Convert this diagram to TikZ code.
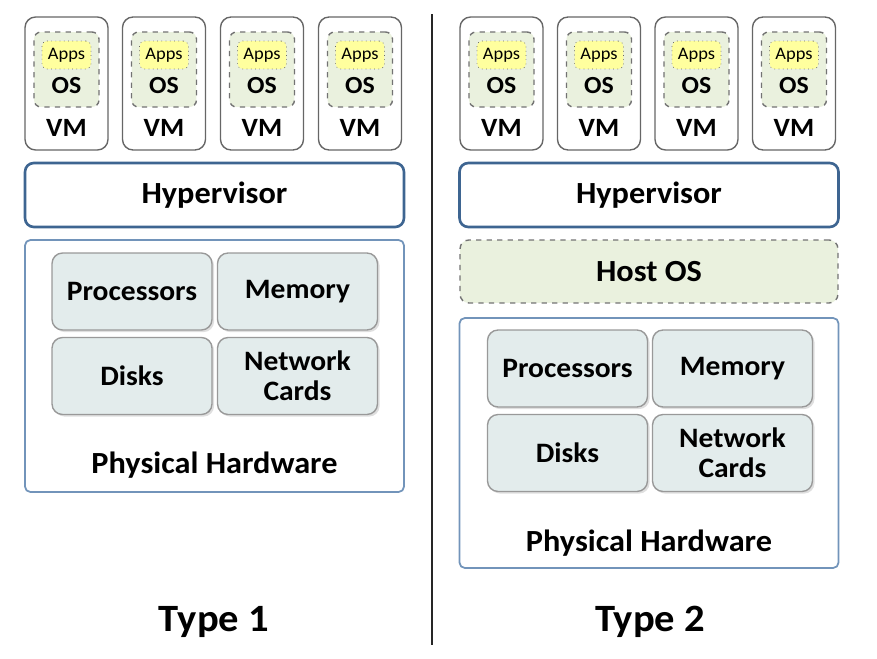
\documentclass[tikz,border=0pt]{standalone}
\usepackage{fontspec}
\setmainfont{Carlito}[FakeStretch=1.05]
\usepackage{tikz}
\usetikzlibrary{shadows}

\definecolor{osgreen}{HTML}{EAF1DE}
\definecolor{appyellow}{HTML}{FFFF9E}
\definecolor{hyperblue}{HTML}{3E6591}
\definecolor{hwblue}{HTML}{7294BA}
\definecolor{partfill}{HTML}{E3ECEC}

\begin{document}
\begin{tikzpicture}[x=0.02cm, y=-0.02cm,
    vmbox/.style={rectangle, draw=black!60, fill=white, line width=0.8pt, rounded corners=6pt, minimum width=1.66cm, minimum height=2.66cm},
    osbox/.style={rectangle, draw=black!55, dashed, line width=0.8pt, fill=osgreen, rounded corners=4pt, minimum width=1.3cm, minimum height=1.5cm},
    appsbox/.style={rectangle, draw=black!60, dotted, fill=appyellow, rounded corners=3pt, minimum width=0.98cm, minimum height=0.56cm, inner sep=0pt, font=\fontsize{10}{12}\selectfont},
    vmtext/.style={font=\bfseries\fontsize{15}{18}\selectfont, inner sep=0pt},
    bigtext/.style={font=\bfseries\fontsize{17.5}{21}\selectfont, inner sep=0pt},
    hyperbox/.style={rectangle, draw=hyperblue, line width=1.5pt, fill=white, rounded corners=5pt, minimum width=7.58cm, minimum height=1.28cm, font=\bfseries\fontsize{17.5}{21}\selectfont},
    hostbox/.style={rectangle, draw=black!55, dashed, line width=0.8pt, fill=osgreen, rounded corners=5pt, minimum width=7.56cm, minimum height=1.26cm, font=\bfseries\fontsize{17.5}{21}\selectfont},
    hwbox/.style={rectangle, draw=hwblue, line width=1pt, rounded corners=3pt, minimum width=7.58cm},
    partbox/.style={rectangle, draw=black!40, fill=partfill, line width=0.8pt, rounded corners=6pt, minimum width=3.2cm, minimum height=1.54cm, align=center, font=\bfseries\fontsize{16}{19}\selectfont, drop shadow={shadow xshift=1.2pt, shadow yshift=-1.2pt, opacity=0.25}},
    title/.style={font=\bfseries\fontsize{22}{26}\selectfont}
]
    \useasboundingbox (0,0) rectangle (877,659);

    % virtual machines, four per side
    \foreach \x/\n in {66.5/L1, 164/L2, 262/L3, 360/L4, 501.5/R1, 599/R2, 696.5/R3, 794/R4} {
        \node[vmbox] (vm\n) at (\x, 83.5) {};
        \node[osbox] (os\n) at (\x, 69.5) {};
        \node[appsbox] (apps\n) at (\x, 55) {Apps};
        \node[vmtext, font=\bfseries\fontsize{14}{17}\selectfont] (osT\n) at (\x, 86) {OS};
        \node[vmtext] (vmT\n) at (\x, 128) {VM};
    }

    % Type 1
    \node[hyperbox] (hypL) at (214.5, 195) {Hypervisor};
    \node[hwbox, minimum height=5.04cm] (hwL) at (214.5, 366) {};
    \node[partbox] (procL) at (132, 291.5) {Processors};
    \node[partbox] (memL) at (297.5, 291.5) {Memory};
    \node[partbox] (diskL) at (132, 376) {Disks};
    \node[partbox] (netL) at (297.5, 376) {Network\\[-2pt]Cards};
    \node[bigtext] (hwTL) at (214.5, 465) {Physical Hardware};
    \node[title] (typeL) at (214, 622) {Type 1};

    % Type 2
    \node[hyperbox] (hypR) at (649, 195) {Hypervisor};
    \node[hostbox] (host) at (649, 271.5) {Host OS};
    \node[hwbox, minimum height=5.0cm] (hwR) at (649, 443) {};
    \node[partbox] (procR) at (567.5, 368.5) {Processors};
    \node[partbox] (memR) at (732.5, 368.5) {Memory};
    \node[partbox] (diskR) at (567.5, 453) {Disks};
    \node[partbox] (netR) at (732.5, 453) {Network\\[-2pt]Cards};
    \node[bigtext] (hwTR) at (649, 543) {Physical Hardware};
    \node[title] (typeR) at (650, 622) {Type 2};

    \coordinate (divTop) at (432, 14);
    \coordinate (divBot) at (432, 645);
    \draw[line width=1.3pt, black!85] (divTop) -- (divBot);
\end{tikzpicture}
\end{document}
